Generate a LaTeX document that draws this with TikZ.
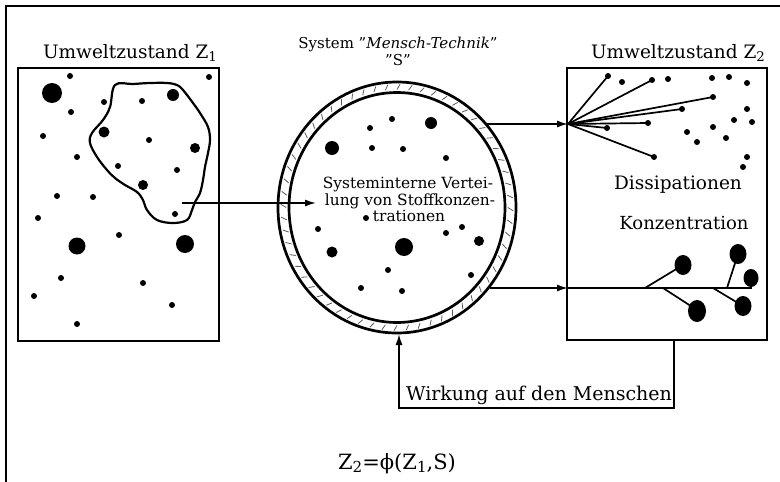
\documentclass[tikz,border=0pt]{standalone}
\usepackage{graphicx}
\usepackage{fontspec}
\setmainfont{DejaVu Serif}
\usetikzlibrary{arrows.meta,shapes.geometric}
\newcommand{\lowix}[1]{\raisebox{-0.35ex}{\scalebox{0.72}{#1}}}
\tikzset{
  box/.style={draw, line width=2.6pt, inner sep=0pt, minimum width=#1},
  conn/.style={line width=1.5pt},
  arr/.style={-{Latex[length=11pt,width=7pt]}},
  ring/.style={draw, ellipse, line width=2.7pt, inner sep=0pt},
  lbl/.style={anchor=base, inner sep=0pt},
  blob/.style={fill=black},
}
\begin{document}
\begin{tikzpicture}[x=1pt,y=-1pt]
\useasboundingbox (0,0) rectangle (780,482);
% outer frame (cropped)
\draw[line width=1.2pt] (6,490) -- (6,6) -- (790,6);

% boxes
\node[box=201pt, minimum height=273pt] (Z1) at (118.5,204.5) {};
\node[box=200pt, minimum height=272pt] (Z2) at (667,204) {};

% titles
\node[lbl, font=\fontsize{18.5}{20}\selectfont] (t1) at (130,58) {Umweltzustand Z\lowix{1}};
\node[lbl, font=\fontsize{18.5}{20}\selectfont] (t2) at (678,58) {Umweltzustand Z\lowix{2}};
\node[lbl, font=\fontsize{15}{17}\selectfont] (ts) at (398,48) {System "\textit{Mensch-Technik}"};
\node[lbl, font=\fontsize{15}{17}\selectfont] (ts2) at (398,65) {"S"};

% left box dots
\foreach \x/\y in {70/76,209/77,104/102,142/101,71/112,43/136,149/140,77/157,118/166,177/170,57/196,93/197,38/218,175/214,119/235,61/278,143/283,34/296,172/305,77/324}
  \fill (\x,\y) circle (3pt);
\foreach \x/\y/\r in {104/132/5.5,173/95/6,195/148/5,143/185/5,52/93/10,77/246/8.5,185/244/9}
  \fill (\x,\y) circle (\r pt);
% blob outline
\draw[line width=2.2pt] plot[smooth cycle, tension=0.6] coordinates {(115,85) (110,107) (103,120) (92,133) (90,143) (97,157) (107,170) (115,178) (125,185) (137,192) (143,200) (147,210) (157,220) (173,223) (187,220) (192,210) (195,202) (200,193) (203,180) (205,167) (208,153) (210,140) (208,127) (200,113) (193,103) (183,90) (177,85) (167,83) (150,83) (133,84)};

% system ellipse
\node[ring, minimum width=238pt, minimum height=251pt] (S) at (397,207.5) {};
\node[ring, minimum width=216pt, minimum height=230pt] (Sin) at (397,207.5) {};
\foreach \a in {0,6,...,354}
  \draw[line width=0.8pt, gray!70!black] ({397+110.8*cos(\a)},{207.5+118*sin(\a)}) -- ({397+116.2*cos(\a+1.5)},{207.5+123.2*sin(\a+1.5)});

% system dots
\foreach \x/\y in {392/119,370/128,372/148,403/149,446/158,366/218,318/229,462/227,446/233,388/270,471/275,361/288,402/291}
  \fill (\x,\y) circle (3pt);
\foreach \x/\y/\r in {431/123/6,332/148/7,479/241/5,332/252/5.5,404/247/9}
  \fill (\x,\y) circle (\r pt);

% system text
\node[lbl, font=\fontsize{15.4}{18}\selectfont] (st1) at (408,188) {Systeminterne Vertei-};
\node[lbl, font=\fontsize{15.4}{18}\selectfont] (st2) at (410,205) {lung von Stoffkonzen-};
\node[lbl, font=\fontsize{15.4}{18}\selectfont] (st3) at (409,221) {trationen};

% arrow Z1 -> S
\coordinate (a1) at (182,203);
\coordinate (a2) at (316,203);
\draw[conn,arr] (a1) -- (a2);

% arrows S -> Z2
\coordinate (d0) at (486,124);
\coordinate (dp) at (568,124);
\draw[conn,arr] (d0) -- (dp);
\coordinate (c0) at (490,288);
\coordinate (cp) at (568,288);
\draw[conn,arr] (c0) -- (cp);

% dissipation
\foreach \x/\y in {608/76,652/80,713/97,682/109,648/123,607/128,654/157} {
  \draw[line width=1.7pt] (dp) -- (\x,\y);
  \fill (\x,\y) circle (3pt);
}
\foreach \x/\y in {622/82,668/79,712/78,729/77,747/83,747/109,734/120,752/122,687/132,713/127,697/142,726/138,747/157,743/167}
  \fill (\x,\y) circle (3pt);
\node[lbl, font=\fontsize{18.5}{20}\selectfont] (dis) at (678,189) {Dissipationen};
\node[lbl, font=\fontsize{18}{20}\selectfont] (kon) at (684,229) {Konzentration};

% concentration
\coordinate (cend) at (752,288);
\draw[line width=1.7pt] (cp) -- (cend);
\draw[line width=1.7pt] (645,288) -- (683,265);
\draw[line width=1.7pt] (663,288) -- (697,310);
\draw[line width=1.7pt] (727,288) -- (738,254);
\draw[line width=1.7pt] (713,288) -- (743,306);
\fill[blob] (683,265) ellipse [x radius=8.5pt, y radius=10pt];
\fill[blob] (697,311) ellipse [x radius=9pt, y radius=11pt];
\fill[blob] (738,254) ellipse [x radius=8.5pt, y radius=10pt];
\fill[blob] (751,278) ellipse [x radius=7.5pt, y radius=9pt];
\fill[blob] (743,306) ellipse [x radius=8.5pt, y radius=10pt];

% feedback
\coordinate (fb0) at (674,341);
\coordinate (fb1) at (399,334);
\draw[conn,arr] (fb0) -- (674,408) -- (399,408) -- (fb1);
\node[lbl, font=\fontsize{19}{21}\selectfont] (wk) at (539,400) {Wirkung auf den Menschen};

% formula
\node[lbl, font=\fontsize{21}{23}\selectfont] (fm) at (397,469) {Z\lowix{2}=ϕ(Z\lowix{1},S)};
\end{tikzpicture}
\end{document}
